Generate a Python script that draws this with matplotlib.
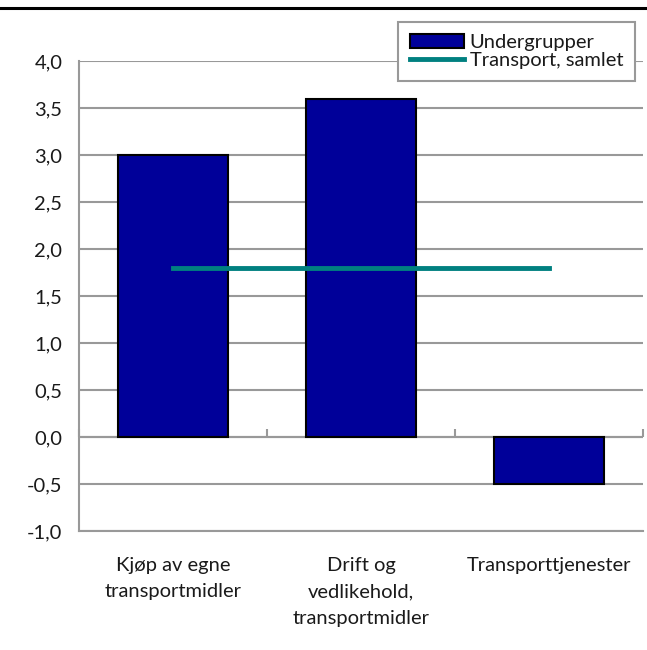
import matplotlib
matplotlib.use("Agg")
import matplotlib.pyplot as plt
from matplotlib.lines import Line2D

categories = ["Kjøp av egne\ntransportmidler", "Drift og\nvedlikehold,\ntransportmidler", "Transporttjenester"]
undergrupper = [3.0, 3.6, -0.5]
transport_samlet = [1.8, 1.8, 1.8]
yticks = [-1.0, -0.5, 0.0, 0.5, 1.0, 1.5, 2.0, 2.5, 3.0, 3.5, 4.0]
ytick_labels = ["-1,0", "-0,5", "0,0", "0,5", "1,0", "1,5", "2,0", "2,5", "3,0", "3,5", "4,0"]

plt.rcParams['font.family'] = ['Lato', 'DejaVu Sans']
FS = 14.5
GRID = "#999999"
TXT = "#1a1a1a"

fig = plt.figure(figsize=(6.47, 6.5), dpi=100)
ax = fig.add_axes([79/647, 1-531/650, (643-79)/647, (531-61)/650])

x = list(range(len(categories)))
bars = ax.bar(x, undergrupper, width=0.59, color="#000099", edgecolor="black", linewidth=1.5,
              label="Undergrupper", zorder=3)
line, = ax.plot(x, transport_samlet, color="#008080", linewidth=3.5, label="Transport, samlet", zorder=4)

ax.set_xlim(-0.5, 2.5)
ax.set_ylim(-1.0, 4.0)
ax.set_yticks(yticks)
ax.set_yticklabels(ytick_labels, fontsize=FS, color=TXT)
ax.yaxis.grid(True, color=GRID, linewidth=1.5, zorder=0)
ax.set_axisbelow(True)
ax.tick_params(axis='y', length=0, pad=12)

ax.set_xticks(x)
ax.set_xticklabels(categories, fontsize=FS, color=TXT, va="top", linespacing=1.65)
ax.tick_params(axis='x', length=0, pad=19)

for s in ["top", "right"]:
    ax.spines[s].set_visible(False)
ax.spines["left"].set_color(GRID)
ax.spines["left"].set_linewidth(1.5)
ax.spines["bottom"].set_color(GRID)
ax.spines["bottom"].set_linewidth(1.5)

# zero axis with category boundary ticks
ax.axhline(0, color=GRID, linewidth=1.5, zorder=2)
sec = ax.secondary_xaxis(0.2)
sec.set_xticks([-0.5, 0.5, 1.5, 2.5])
sec.set_xticklabels([])
sec.tick_params(axis='x', direction='in', length=6, width=1.5, color=GRID)
sec.spines["bottom"].set_visible(False)

leg = ax.legend([bars, line], ["Undergrupper", "Transport, samlet"],
                loc="upper right", bbox_to_anchor=(0.986, 1.083), fontsize=FS,
                frameon=True, fancybox=False, framealpha=1, edgecolor=GRID,
                handlelength=2.7, handletextpad=0.25, borderpad=0.6, labelspacing=0.05,
                borderaxespad=0)
leg.get_frame().set_linewidth(1.5)
for t in leg.get_texts():
    t.set_color(TXT)

fig.add_artist(Line2D([0, 1], [1-8/650, 1-8/650], color="black", linewidth=2.2))

fig.savefig("out.png", dpi=100, facecolor="white")
